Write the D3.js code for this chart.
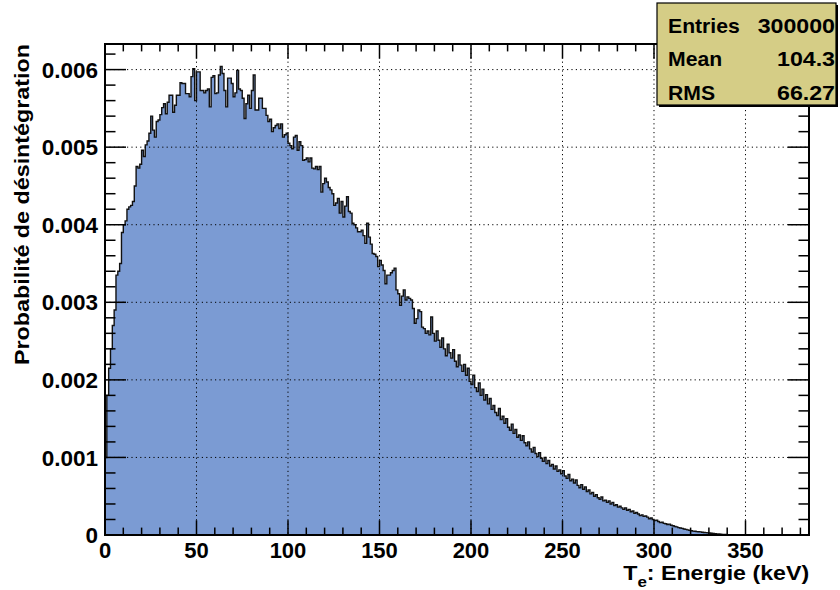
<!DOCTYPE html>
<html><head><meta charset="utf-8">
<script src="https://cdn.jsdelivr.net/npm/d3@7"></script>
<style>
body{margin:0;background:#fff}
svg{display:block}
text{font-family:"Liberation Sans",Arial,Helvetica,sans-serif;font-weight:bold;fill:#000}
</style>
</head><body>
<svg id="chart" width="840" height="590"></svg>
<script>
// ---- data ----
const binWidthKeV = 1;
const xDomain = [0, 384.7];
const yDomain = [0, 0.00633];
const xTickValues = [0, 50, 100, 150, 200, 250, 300, 350];
const xTickLabels = ["0", "50", "100", "150", "200", "250", "300", "350"];
const yTickValues = [0, 0.001, 0.002, 0.003, 0.004, 0.005, 0.006];
const yTickLabels = ["0", "0.001", "0.002", "0.003", "0.004", "0.005", "0.006"];
const xTitle = ["T", "e", ": Energie (keV)"];
const yTitle = "Probabilité de désintégration";
const statNames = ["Entries", "Mean", "RMS"];
const statValues = ["300000", "104.3", "66.27"];
// probability per 1 keV bin, starting at 0 keV
const probability = [
0.00100,0.00180,0.00215,0.00240,0.00270,0.00290,0.00335,0.00340,0.00350,0.00390,
0.00400,0.00405,0.00420,0.00423,0.00425,0.00430,0.00450,0.00475,0.00473,0.00478,
0.00496,0.00488,0.00503,0.00508,0.00518,0.00540,0.00522,0.00513,0.00533,0.00535,
0.00542,0.00551,0.00556,0.00543,0.00558,0.00567,0.00567,0.00545,0.00554,0.00567,
0.00567,0.00583,0.00582,0.00582,0.00569,0.00569,0.00565,0.00591,0.00601,0.00560,
0.00597,0.00597,0.00573,0.00573,0.00570,0.00573,0.00575,0.00552,0.00590,0.00592,
0.00569,0.00570,0.00593,0.00604,0.00595,0.00573,0.00552,0.00589,0.00589,0.00582,
0.00565,0.00570,0.00599,0.00575,0.00573,0.00563,0.00537,0.00556,0.00567,0.00550,
0.00573,0.00593,0.00548,0.00548,0.00563,0.00563,0.00550,0.00550,0.00541,0.00533,
0.00536,0.00520,0.00525,0.00528,0.00530,0.00524,0.00530,0.00513,0.00516,0.00518,
0.00505,0.00502,0.00498,0.00513,0.00515,0.00496,0.00507,0.00502,0.00483,0.00484,
0.00486,0.00481,0.00486,0.00473,0.00472,0.00475,0.00471,0.00475,0.00442,0.00453,
0.00460,0.00455,0.00448,0.00445,0.00440,0.00425,0.00428,0.00434,0.00415,0.00430,
0.00410,0.00424,0.00436,0.00417,0.00415,0.00402,0.00400,0.00396,0.00391,0.00391,
0.00393,0.00386,0.00376,0.00402,0.00384,0.00375,0.00363,0.00362,0.00359,0.00346,
0.00354,0.00348,0.00341,0.00324,0.00335,0.00335,0.00338,0.00341,0.00344,0.00316,
0.00311,0.00296,0.00308,0.00316,0.00303,0.00307,0.00305,0.00303,0.00292,0.00273,
0.00279,0.00290,0.00288,0.00268,0.00266,0.00260,0.00263,0.00258,0.00281,0.00260,
0.00250,0.00263,0.00251,0.00242,0.00254,0.00240,0.00231,0.00246,0.00235,0.00228,
0.00239,0.00224,0.00217,0.00232,0.00219,0.00211,0.00220,0.00206,0.00215,0.00198,
0.00194,0.00206,0.00190,0.00185,0.00196,0.00180,0.00188,0.00174,0.00181,0.00169,
0.00176,0.00162,0.00167,0.00158,0.00154,0.00163,0.00149,0.00153,0.00144,0.00150,
0.00139,0.00135,0.00143,0.00131,0.00136,0.00126,0.00129,0.00122,0.00128,0.00119,
0.00115,0.00120,0.00111,0.00107,0.00113,0.00105,0.00101,0.00106,0.00099,0.00095,
0.00100,0.00092,0.00096,0.00089,0.00091,0.00085,0.00089,0.00082,0.00084,0.00079,
0.00083,0.00076,0.00073,0.00078,0.00070,0.00072,0.00067,0.00071,0.00064,0.00061,
0.00065,0.00059,0.00062,0.00056,0.00058,0.00053,0.00055,0.00050,0.00052,0.00048,
0.00046,0.00049,0.00044,0.00045,0.00042,0.00044,0.00040,0.00042,0.00038,0.00039,
0.00036,0.00037,0.00035,0.00033,0.00035,0.00032,0.00033,0.00030,0.00031,0.00028,
0.00029,0.00027,0.00025,0.00026,0.00024,0.000245,0.00023,0.00021,0.00022,0.00020,
0.000185,0.00019,0.000175,0.00016,0.000165,0.00015,0.000145,0.000135,0.00014,0.000125,
0.00012,0.00011,0.000105,0.000095,0.00009,0.000085,0.000078,0.000072,0.000066,0.00006,
0.000055,0.00005,0.000048,0.000044,0.000042,0.00004,0.000036,0.000033,0.000031,0.000028,
0.000026,0.000023,0.00002,0.000017,0.000014,0.000012,0.00001,0.000008,0.000007,0.000006,
0.000005,0.000004,0.000003,0.000002,0.0000015,0.000001,0.0000005
];

// ---- layout ----
const frame = {left: 105, right: 809, top: 44, bottom: 535};
const svg = d3.select("#chart");
const x = d3.scaleLinear().domain(xDomain).range([frame.left, frame.right]);
const y = d3.scaleLinear().domain(yDomain).range([frame.bottom, frame.top]);

svg.append("defs").append("clipPath").attr("id", "clip")
  .append("rect").attr("x", frame.left).attr("y", frame.top)
  .attr("width", frame.right - frame.left).attr("height", frame.bottom - frame.top);

const pts = probability.map((v, i) => ({e: i * binWidthKeV, v}));
pts.push({e: probability.length * binWidthKeV, v: probability[probability.length - 1]});

const g = svg.append("g").attr("clip-path", "url(#clip)");
g.append("path").datum(pts)
  .attr("d", d3.area().curve(d3.curveStepAfter).x(d => x(d.e)).y0(y(0)).y1(d => y(d.v)))
  .attr("fill", "#7b9bd3");

// grid (dotted)
const grid = svg.append("g").attr("stroke", "#000").attr("stroke-width", 1)
  .attr("stroke-dasharray", "1.2,3.2");
xTickValues.filter(v => v > 0).forEach(v => {
  grid.append("line").attr("x1", x(v)).attr("x2", x(v)).attr("y1", frame.top).attr("y2", frame.bottom);
});
yTickValues.filter(v => v > 0).forEach(v => {
  grid.append("line").attr("x1", frame.left).attr("x2", frame.right).attr("y1", y(v)).attr("y2", y(v));
});

// outline
const linePts = [{e: 0, v: 0}].concat(pts).concat([{e: probability.length * binWidthKeV, v: 0}]);
g.append("path").datum(linePts)
  .attr("d", d3.line().curve(d3.curveStepAfter).x(d => x(d.e)).y(d => y(d.v)))
  .attr("fill", "none").attr("stroke", "#111").attr("stroke-width", 1.4);

// ticks
const ticks = svg.append("g").attr("stroke", "#000").attr("stroke-width", 1.5);
const xMajorLen = 14.7, xMinorLen = 7.4, yMajorLen = 21, yMinorLen = 10.5;
d3.range(0, 385, 10).forEach(v => {
  const L = v % 50 === 0 ? xMajorLen : xMinorLen;
  ticks.append("line").attr("x1", x(v)).attr("x2", x(v)).attr("y1", frame.bottom).attr("y2", frame.bottom - L);
  ticks.append("line").attr("x1", x(v)).attr("x2", x(v)).attr("y1", frame.top).attr("y2", frame.top + L);
});
d3.range(0, 32).forEach(i => {
  const v = i * 0.0002;
  if (v > yDomain[1]) return;
  const L = i % 5 === 0 ? yMajorLen : yMinorLen;
  ticks.append("line").attr("x1", frame.left).attr("x2", frame.left + L).attr("y1", y(v)).attr("y2", y(v));
  ticks.append("line").attr("x1", frame.right).attr("x2", frame.right - L).attr("y1", y(v)).attr("y2", y(v));
});

// frame
svg.append("rect").attr("x", frame.left).attr("y", frame.top)
  .attr("width", frame.right - frame.left).attr("height", frame.bottom - frame.top)
  .attr("fill", "none").attr("stroke", "#000").attr("stroke-width", 2);

// tick labels
svg.append("g").selectAll("text").data(xTickValues).join("text")
  .attr("x", d => x(d)).attr("y", 558).attr("text-anchor", "middle")
  .attr("font-size", 22).text((d, i) => xTickLabels[i]);
svg.append("g").selectAll("text").data(yTickValues).join("text")
  .attr("x", 98).attr("y", d => y(d)).attr("dy", "0.36em").attr("text-anchor", "end")
  .attr("font-size", 22.5).text((d, i) => yTickLabels[i]);

// helper: stretch text horizontally about an anchor x to reach a target width
function stretch(sel, anchorX, width) {
  const w = sel.node().getBBox().width;
  const k = width / w;
  sel.attr("transform", `translate(${anchorX},0) scale(${k},1) translate(${-anchorX},0)`);
}

// axis titles
const xt = svg.append("text").attr("x", frame.right).attr("y", 580).attr("text-anchor", "end").attr("font-size", 20.5);
xt.append("tspan").text(xTitle[0]);
xt.append("tspan").attr("dy", 7).attr("font-size", 15).text(xTitle[1]);
xt.append("tspan").attr("dy", -7).text(xTitle[2]);
stretch(xt, frame.right - 1, 186);

svg.append("text").attr("transform", `translate(29,${frame.top}) rotate(-90)`)
  .attr("text-anchor", "end").attr("font-size", 21)
  .attr("textLength", 321).attr("lengthAdjust", "spacingAndGlyphs").text(yTitle);

// stats box
const box = {x: 657, y: 3, w: 179, h: 102};
svg.append("rect").attr("x", box.x + 2).attr("y", box.y + 2).attr("width", box.w).attr("height", box.h).attr("fill", "#000");
svg.append("rect").attr("x", box.x).attr("y", box.y).attr("width", box.w).attr("height", box.h)
  .attr("fill", "#d5cd86").attr("stroke", "#000").attr("stroke-width", 1.2);
statNames.forEach((n, i) => {
  const yy = 33 + i * 33.5;
  const a = svg.append("text").attr("x", box.x + 11).attr("y", yy).attr("font-size", 20).text(n);
  stretch(a, box.x + 11, a.node().getBBox().width * 1.06);
  const b = svg.append("text").attr("x", box.x + box.w - 1).attr("y", yy).attr("text-anchor", "end").attr("font-size", 20).text(statValues[i]);
  stretch(b, box.x + box.w - 1, b.node().getBBox().width * 1.16);
});
</script>
</body></html>
